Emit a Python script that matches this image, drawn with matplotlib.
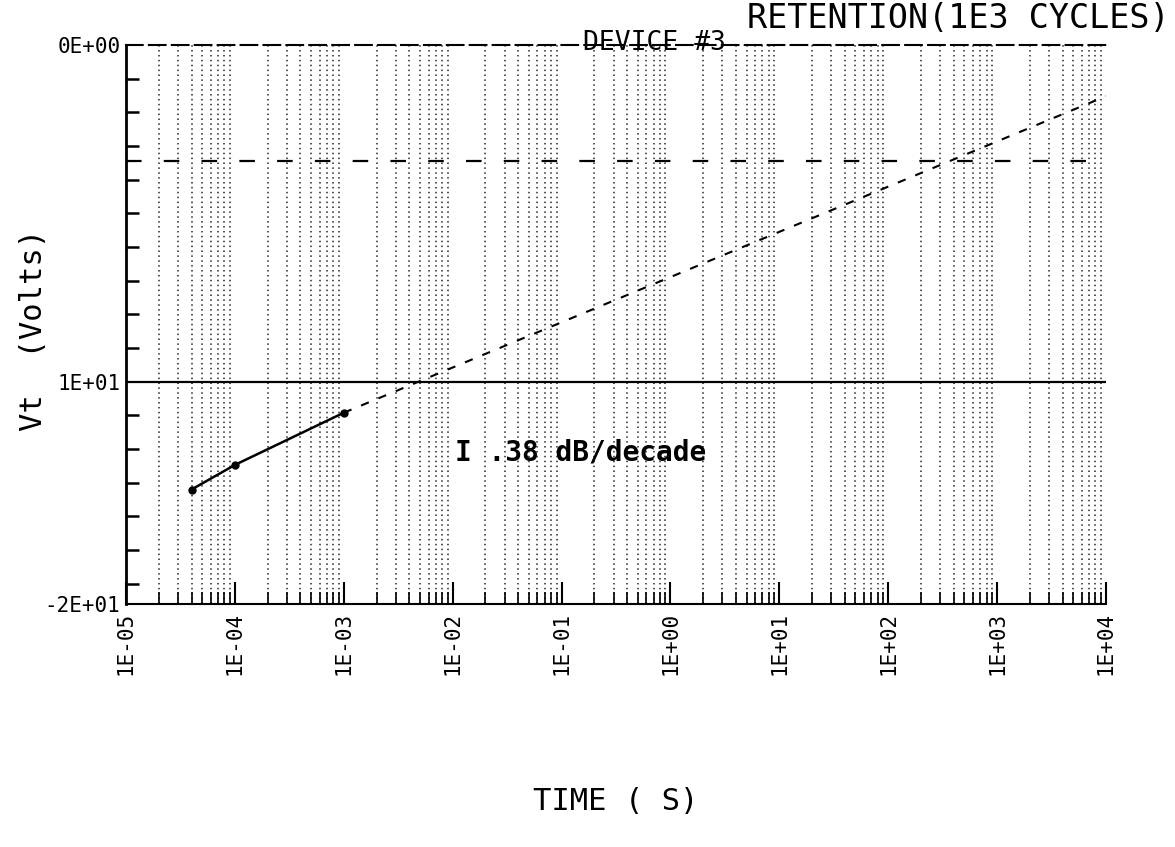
import numpy as np
import matplotlib
matplotlib.use("Agg")
import matplotlib.pyplot as plt
from matplotlib.ticker import NullFormatter, FixedLocator

# ---- data ----
meas_time = [4.0e-5, 1.0e-4, 1.0e-3]          # s
meas_vt = [-13.2, -12.47, -10.92]
extrap_time = [1.0e-3, 1.0e4]
extrap_vt = [-10.92, -1.52]
ref_level = -10.0            # solid horizontal line
limit_level = -3.45          # dashed horizontal line
x_major = [1e-5, 1e-4, 1e-3, 1e-2, 1e-1, 1e0, 1e1, 1e2, 1e3, 1e4]
x_major_labels = ["1E-05", "1E-04", "1E-03", "1E-02", "1E-01",
                  "1E+00", "1E+01", "1E+02", "1E+03", "1E+04"]
y_label_pos = [0.0, -10.0, -16.6]
y_label_txt = ["0E+00", "1E+01", "-2E+01"]

fig = plt.figure(figsize=(11.75, 8.47), dpi=100)
ax = fig.add_axes([126/1175, 1-604/847, (1106-126)/1175, (604-45)/847])
ax.set_xscale("log")
ax.set_xlim(1e-5, 1e4)
ax.set_ylim(-16.6, 0.0)

# dotted vertical grid at minor log positions
minors = []
for d in range(-5, 4):
    for m in range(2, 10):
        minors.append(m * 10.0**d)
for xv in minors:
    ax.axvline(xv, color="black", lw=1.1, ls=(0, (1, 2.2)), alpha=0.85, zorder=1)

# reference lines
ax.axhline(ref_level, color="black", lw=1.6, zorder=3)
ax.axhline(limit_level, color="black", lw=1.6, ls=(0, (7, 10)), zorder=3)

# measured data and extrapolation
ax.plot(meas_time, meas_vt, color="black", lw=1.8, marker="o", ms=5, zorder=4)
ax.plot(extrap_time, extrap_vt, color="black", lw=1.5, ls=(0, (4, 5)), zorder=4)

# spines
ax.spines["right"].set_visible(False)
ax.spines["top"].set_linestyle((0, (8, 3)))
ax.spines["left"].set_linewidth(2.0)
ax.spines["bottom"].set_linewidth(1.5)
ax.spines["top"].set_linewidth(1.5)

# ticks
ax.xaxis.set_major_locator(FixedLocator(x_major))
ax.xaxis.set_minor_locator(FixedLocator(minors))
ax.xaxis.set_minor_formatter(NullFormatter())
ax.set_xticks(x_major)
ax.set_xticklabels(x_major_labels, rotation=90, family="DejaVu Sans Mono",
                   fontsize=15)
ax.tick_params(axis="x", which="major", direction="in", length=16, width=1.5, pad=6)
ax.tick_params(axis="x", which="minor", direction="in", length=9, width=1.2)

ax.yaxis.set_major_locator(FixedLocator(y_label_pos))
ax.set_yticklabels(y_label_txt, family="DejaVu Sans Mono", fontsize=15)
ax.yaxis.set_minor_locator(FixedLocator(list(np.arange(-16, 0, 1.0))))
ax.tick_params(axis="y", which="major", direction="in", length=0, pad=4)
ax.tick_params(axis="y", which="minor", direction="in", length=9, width=1.8)

ax.set_xlabel("TIME ( S)", fontsize=22, family="DejaVu Sans Mono", labelpad=80)
ax.set_ylabel("Vt  (Volts)", fontsize=22, family="DejaVu Sans Mono")
ax.yaxis.set_label_coords(-0.080, 0.49)

fig.text(1170/1175, 1-19/847, "RETENTION(1E3 CYCLES)", ha="right", va="center",
         fontsize=24, family="DejaVu Sans Mono")
fig.text(583/1175, 1-43/847, "DEVICE #3", ha="left", va="center",
         fontsize=19, family="DejaVu Sans Mono")
ax.text(1.05e-2, -12.1, "I .38 dB/decade", fontsize=20, family="DejaVu Sans Mono",
        fontweight="bold", ha="left", va="center", zorder=5)

fig.savefig("out.png", dpi=100, facecolor="white")
